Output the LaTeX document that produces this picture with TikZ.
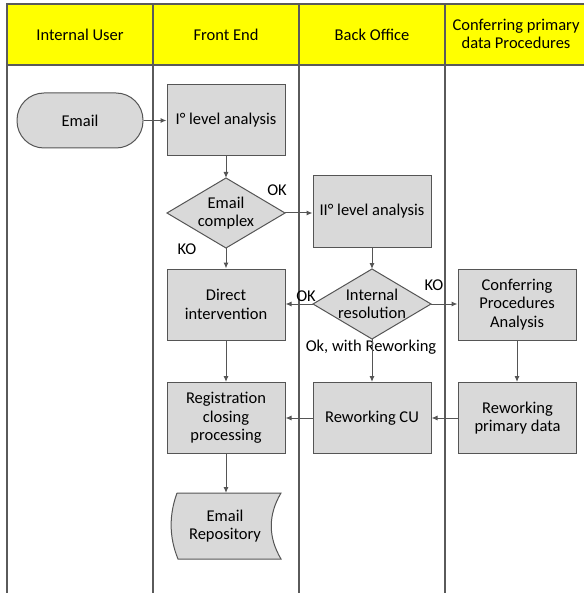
\documentclass[tikz,border=0pt]{standalone}
\usepackage{fontspec}
\setmainfont{Carlito}
\usetikzlibrary{arrows.meta}
\definecolor{boxfill}{HTML}{D9D9D9}
\definecolor{edge}{HTML}{555555}
\definecolor{lane}{HTML}{5A5A5A}
\definecolor{hdr}{HTML}{FFFF00}
\begin{document}
\begin{tikzpicture}[x=1pt,y=-1pt,
  every node/.style={font=\fontsize{16.5}{18.5}\selectfont},
  proc/.style={draw=edge,fill=boxfill,line width=1pt,minimum width=118pt,minimum height=71pt,align=center,inner sep=1pt},
  decision/.style={draw=edge,fill=boxfill,line width=1pt,align=center,inner sep=0pt},
  term/.style={draw=edge,fill=boxfill,line width=1pt,minimum width=126pt,minimum height=55pt,rounded corners=27pt,align=center},
  hdrtext/.style={align=center},
  lbl/.style={inner sep=1pt},
  flow/.style={draw=edge,line width=1pt,-{Latex[length=6pt,width=5pt]}},
  laneline/.style={draw=lane,line width=1.1pt}
]
\useasboundingbox (0,0) rectangle (584,593);
% header
\fill[hdr] (7,4) rectangle (584,65);
\draw[laneline] (584,4) -- (7,4) -- (7,65) -- (584,65);
% lane lines
\draw[laneline] (7,65) -- (7,593);
\draw[laneline] (153,4) -- (153,593);
\draw[laneline] (299,4) -- (299,593);
\draw[laneline] (445,4) -- (445,593);
\node[hdrtext] (h1) at (80,34.5) {Internal User};
\node[hdrtext] (h2) at (226,34.5) {Front End};
\node[hdrtext] (h3) at (372,34.5) {Back Office};
\node[hdrtext] (h4) at (516,34) {Conferring primary\\data Procedures};
% nodes
\node[term] (email) at (80,120.5) {Email};
\node[proc] (l1) at (226,120.5) {I° level analysis};
\coordinate (d1c) at (226,213);
\path[decision] (167,213) -- (226,178) -- (285,213) -- (226,248) -- cycle;
\node[align=center] (d1) at (d1c) {Email\\complex};
\coordinate (d1l) at (167,213);
\coordinate (d1r) at (285,213);
\coordinate (d1t) at (226,178);
\coordinate (d1b) at (226,248);
\node[proc] (l2) at (372,211.5) {II° level analysis};
\path[decision] (313,304) -- (372,269) -- (431,304) -- (372,339) -- cycle;
\node[align=center] (d2) at (372,304) {Internal\\resolution};
\coordinate (d2l) at (313,304);
\coordinate (d2r) at (431,304);
\coordinate (d2t) at (372,269);
\coordinate (d2b) at (372,339);
\node[proc] (direct) at (226,304.5) {Direct\\intervention};
\node[proc] (conf) at (517,304.5) {Conferring\\Procedures\\Analysis};
\node[proc] (reg) at (226,418) {Registration\\closing\\processing};
\node[proc] (rcu) at (372,418) {Reworking CU};
\node[proc] (rpd) at (517.5,418) {Reworking\\primary data};
% repository
\draw[draw=edge,fill=boxfill,line width=1pt] (177,493) -- (281,493) .. controls (268,515) and (268,537) .. (281,559) -- (178,559) .. controls (169,537) and (169,515) .. (177,493);
\node[align=center] (repo) at (225,526) {Email\\Repository};
% labels
\node[lbl] (ok1) at (277,190) {OK};
\node[lbl] (ko1) at (187,249) {KO};
\node[lbl] (ko2) at (434,285) {KO};
\node[lbl] (ok2) at (306,296) {OK};
\node[lbl] (okr) at (371,347) {Ok, with Reworking};
% flows
\draw[flow] (email.east) -- (l1.west);
\draw[flow] (l1.south) -- (d1t);
\draw[flow] (d1r) -- (l2.west |- d1r);
\draw[flow] (d1b) -- (direct.north);
\draw[flow] (l2.south) -- (d2t);
\draw[flow] (d2l) -- (direct.east |- d2l);
\draw[flow] (d2r) -- (conf.west |- d2r);
\draw[flow] (d2b) -- (rcu.north);
\draw[flow] (conf.south) -- (rpd.north -| conf.south);
\draw[flow] (rpd.west) -- (rcu.east);
\draw[flow] (rcu.west) -- (reg.east);
\draw[flow] (direct.south) -- (reg.north);
\draw[flow] (reg.south) -- (226,493);
\end{tikzpicture}
\end{document}
